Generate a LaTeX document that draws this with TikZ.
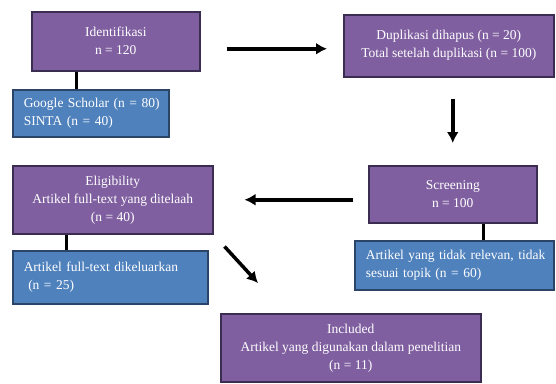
\documentclass[tikz,border=0pt]{standalone}
\usepackage{fontspec}
\setmainfont{Liberation Serif}
\usetikzlibrary{arrows.meta}
\definecolor{stagefill}{HTML}{7F5FA0}
\definecolor{stageline}{HTML}{3B2D52}
\definecolor{notefill}{HTML}{4F81BD}
\definecolor{noteline}{HTML}{2B4568}
\tikzset{
  stage/.style={draw=stageline,fill=stagefill,line width=1.5pt,text=white,align=center,anchor=north west,inner sep=0pt},
  note/.style={draw=noteline,fill=notefill,line width=1.5pt,text=white,align=left,anchor=north west,inner xsep=11pt,inner ysep=0pt},
  flow/.style={-{Latex[length=11pt,width=12pt]},line width=3.5pt},
  link/.style={line width=3pt}
}
\begin{document}
\begin{tikzpicture}[x=1pt,y=-1pt,font=\fontsize{13.5}{18}\selectfont]
\useasboundingbox (0,0) rectangle (556,383);
% boxes
\node[stage,minimum width=168,minimum height=59](ident) at (31,11){Identifikasi\\n = 120};
\node[note,text width=134,minimum height=47](gs) at (12,89){\mbox{Google Scholar (n = 80)}\\\mbox{SINTA (n = 40)}};
\node[stage,minimum width=210,minimum height=62](dup) at (343,14){Duplikasi dihapus (n = 20)\\Total setelah duplikasi (n = 100)};
\node[stage,minimum width=168,minimum height=57](scr) at (368,165){Screening\\n = 100};
\node[note,text width=177,minimum height=49](rel) at (354,240){\mbox{Artikel yang tidak relevan, tidak}\\\mbox{sesuai topik (n = 60)}};
\node[stage,minimum width=200,minimum height=68](elig) at (12,165){Eligibility\\Artikel full-text yang ditelaah\\(n = 40)};
\node[note,text width=173,minimum height=53](ft) at (12,250){\mbox{Artikel full-text dikeluarkan}\\\mbox{\ (n = 25)}};
\node[stage,minimum width=260,minimum height=68](incl) at (220,313){Included\\Artikel yang digunakan dalam penelitian\\(n = 11)};
% arrows
\draw[flow,shorten <=26pt,shorten >=16pt]([yshift=-7.5pt]ident.east)--([yshift=-3pt]dup.west);
\draw[flow,shorten <=21pt,shorten >=22pt](scr.north |- dup.south)--(scr.north);
\draw[flow,shorten <=15pt,shorten >=31pt](scr.west |- elig.east)--(elig.east);
\draw[flow]([shift={(11,12)}]elig.south east)--([shift={(38,-30)}]incl.north west);
% links
\coordinate (gsjoin) at ([xshift=64pt]gs.north west);
\coordinate (reljoin) at ([xshift=129pt]rel.north west);
\coordinate (ftjoin) at ([xshift=54pt]ft.north west);
\draw[link](gsjoin)--(gsjoin |- ident.south);
\draw[link](reljoin)--(reljoin |- scr.south);
\draw[link](ftjoin)--(ftjoin |- elig.south);
\end{tikzpicture}
\end{document}
